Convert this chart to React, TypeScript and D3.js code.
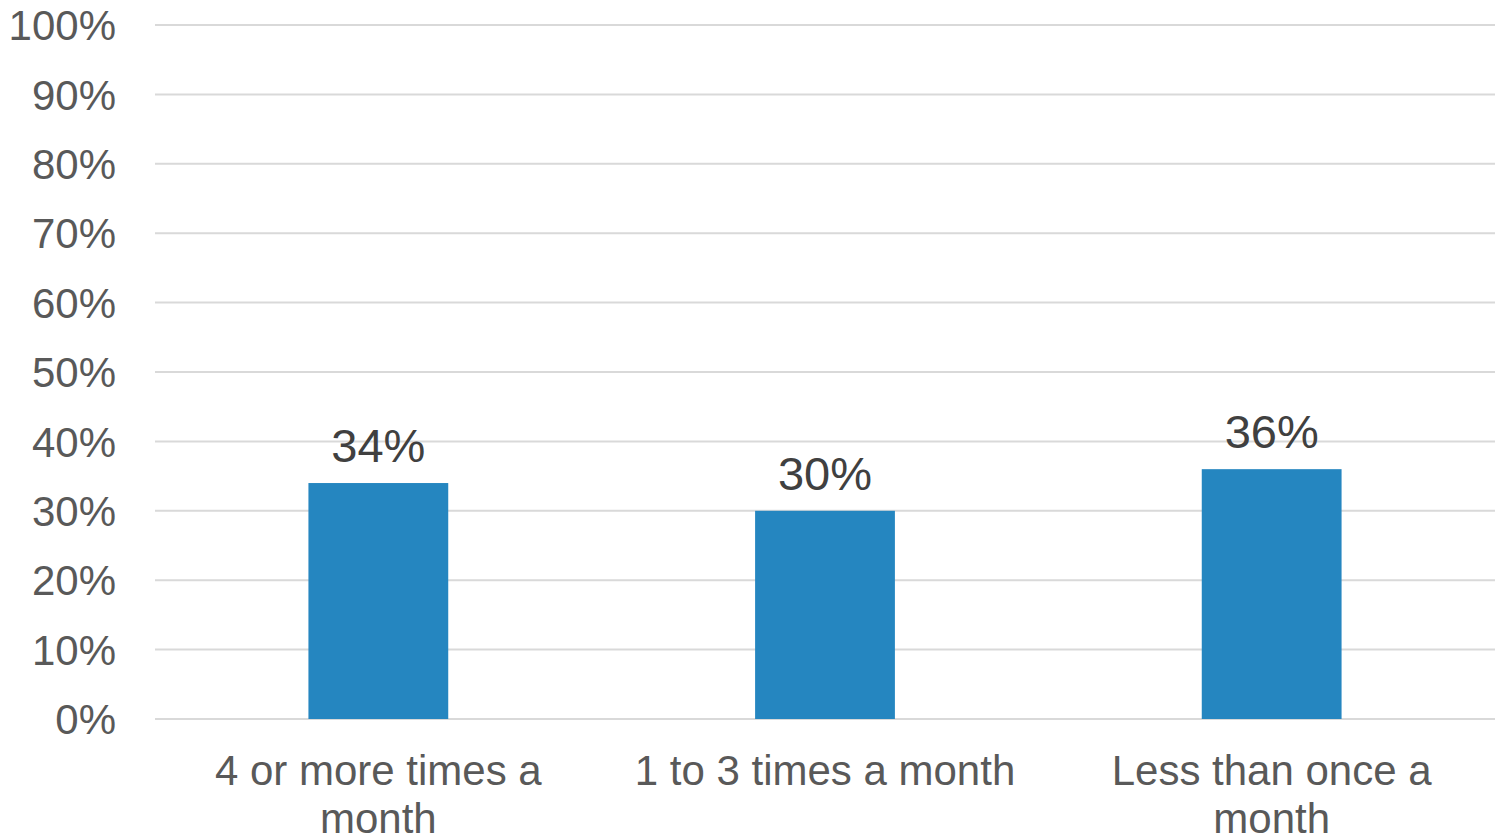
import React from "react";
import * as d3 from "d3";

const categories = ["4 or more times a month", "1 to 3 times a month", "Less than once a month"];
const categoryLines = [["4 or more times a", "month"], ["1 to 3 times a month"], ["Less than once a", "month"]];
const values = [0.34, 0.30, 0.36];
const yTicks = [0, 0.1, 0.2, 0.3, 0.4, 0.5, 0.6, 0.7, 0.8, 0.9, 1.0];

const W = 1495;
const H = 836;
const left = 155;
const right = 1495;
const top = 25;
const bottom = 719;
const font = "'Liberation Sans', Arial, sans-serif";

export default function App() {
  const x = d3.scaleBand<string>().domain(categories).range([left, right]).paddingInner(0.687).paddingOuter(0.3435);
  const y = d3.scaleLinear().domain([0, 1]).range([bottom, top]);
  const fmt = d3.format(".0%");
  return (
    <svg width={W} height={H} style={{ position: "absolute", left: 0, top: 0, background: "#fff" }}>
      {yTicks.map((t) => (
        <g key={t}>
          <line x1={left} x2={right} y1={y(t)} y2={y(t)} stroke="#d9d9d9" strokeWidth={2} />
          <text x={116} y={y(t)} dy="0.36em" textAnchor="end" fontFamily={font} fontSize={42} fill="#595959">
            {fmt(t)}
          </text>
        </g>
      ))}
      {categories.map((c, i) => (
        <g key={c}>
          <rect x={x(c)} y={y(values[i])} width={x.bandwidth()} height={y(0) - y(values[i])} fill="#2586c0" />
          <text x={(x(c) as number) + x.bandwidth() / 2} y={y(values[i]) - 21} textAnchor="middle" fontFamily={font} fontSize={47} fill="#404040">
            {fmt(values[i])}
          </text>
          {categoryLines[i].map((ln, j) => (
            <text key={j} x={(x(c) as number) + x.bandwidth() / 2} y={785 + j * 48} textAnchor="middle" fontFamily={font} fontSize={42} fill="#595959">
              {ln}
            </text>
          ))}
        </g>
      ))}
    </svg>
  );
}
